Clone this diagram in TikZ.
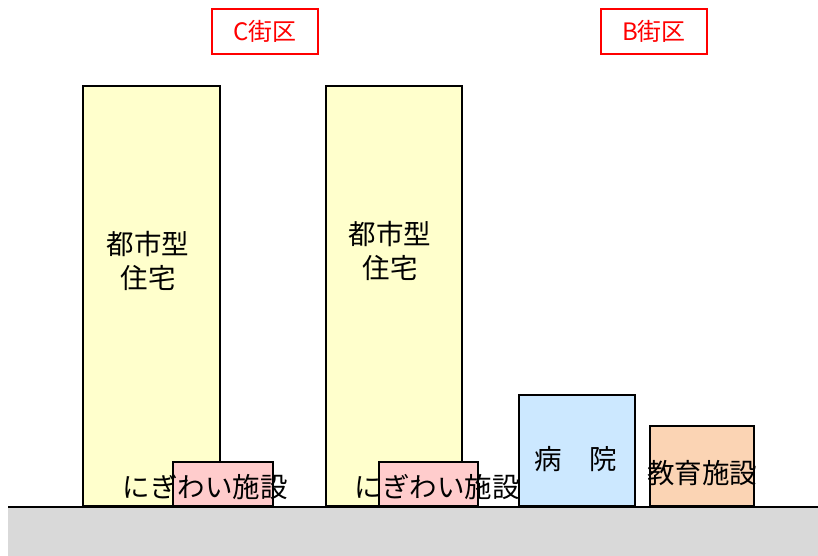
\documentclass[tikz,border=0pt]{standalone}
\usepackage{fontspec}
\newfontfamily\jpfont{Noto Sans CJK JP}
\definecolor{towercol}{RGB}{255,255,204}
\definecolor{shopcol}{RGB}{255,204,204}
\definecolor{hospcol}{RGB}{204,232,255}
\definecolor{schoolcol}{RGB}{251,212,180}
\definecolor{groundcol}{RGB}{217,217,217}
\begin{document}
\begin{tikzpicture}[x=1pt,y=-1pt,
  bldg/.style={draw,line width=2.4pt,anchor=south west,inner sep=0pt},
  txt/.style={font=\jpfont\fontsize{27.5}{34}\selectfont,align=center,inner sep=0pt},
  district/.style={draw=red,line width=2.2pt,text=red,minimum width=106pt,minimum height=45pt,
    font=\jpfont\fontsize{24}{26}\selectfont,inner sep=0pt}]
\useasboundingbox (0,0) rectangle (818,556);
% ground
\fill[groundcol] (8,507) rectangle (818,556);
% buildings
\node [bldg,fill=towercol,minimum width=137pt,minimum height=420pt] (tower1) at (82,507) {};
\node [bldg,fill=towercol,minimum width=136pt,minimum height=420pt] (tower2) at (325,507) {};
\node [bldg,fill=shopcol,minimum width=100pt,minimum height=44pt] (shop1) at (172,507) {};
\node [bldg,fill=shopcol,minimum width=99pt,minimum height=44pt] (shop2) at (378,507) {};
\node [bldg,fill=hospcol,minimum width=116pt,minimum height=111pt] (hosp) at (518,507) {};
\node [bldg,fill=schoolcol,minimum width=104pt,minimum height=80pt] (school) at (649,507) {};
\draw [line width=2.4pt] (8,507) -- (818,507);
% labels
\node [txt] (tower1txt) at (148,261) {都市型\\住宅};
\node [txt] (tower2txt) at (390,251) {都市型\\住宅};
\node [txt] (shop1txt) at (205,487) {にぎわい施設};
\node [txt] (shop2txt) at (437,487) {にぎわい施設};
\node [txt] (hosptxt) at (576,459) {病　院};
\node [txt] (schooltxt) at (702,473) {教育施設};
% districts
\node [district] (distC) at (265,31.5) {C街区};
\node [district] (distB) at (654,31.5) {B街区};
\end{tikzpicture}
\end{document}
